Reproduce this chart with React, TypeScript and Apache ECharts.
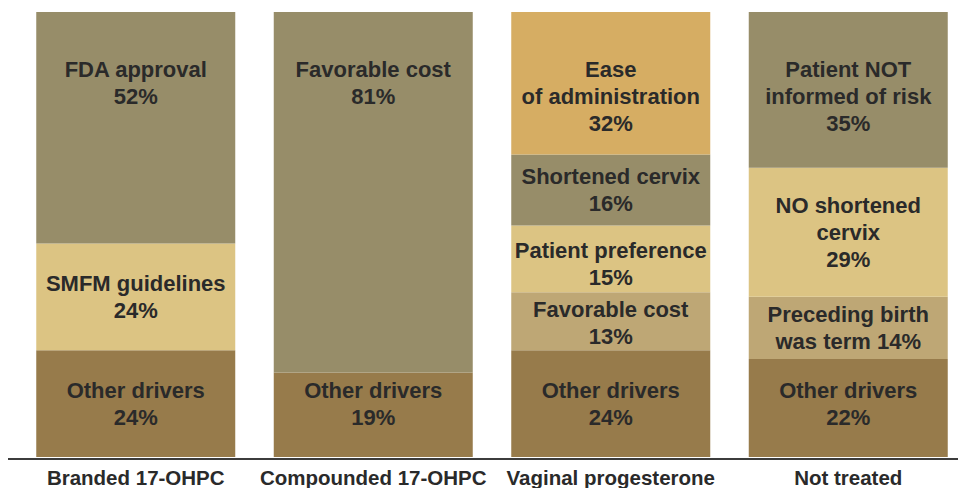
import React, { useEffect, useRef } from "react";
import * as echarts from "echarts";

// ---- Data ----
const categories = ["Branded 17-OHPC", "Compounded 17-OHPC", "Vaginal progesterone", "Not treated"];

// Segments listed bottom -> top. "{v}" marks where the percentage goes inline.
const brandedLabels = ["Other drivers", "SMFM guidelines", "FDA approval"];
const brandedValues = [24, 24, 52];

const compoundedLabels = ["Other drivers", "Favorable cost"];
const compoundedValues = [19, 81];

const vaginalLabels = ["Other drivers", "Favorable cost", "Patient preference", "Shortened cervix", "Ease\nof administration"];
const vaginalValues = [24, 13, 15, 16, 32];

const notTreatedLabels = ["Other drivers", "Preceding birth\nwas term {v}%", "NO shortened\ncervix", "Patient NOT\ninformed of risk"];
const notTreatedValues = [22, 14, 29, 35];

// ---- Styles ----
const OLIVE = "#978d69";
const YELLOW = "#dcc483";
const BROWN = "#977b4b";
const ORANGE = "#d6ad63";
const TAN = "#bea775";

const brandedColors = [BROWN, YELLOW, OLIVE];
const compoundedColors = [BROWN, OLIVE];
const vaginalColors = [BROWN, TAN, YELLOW, OLIVE, ORANGE];
const notTreatedColors = [BROWN, TAN, YELLOW, OLIVE];

const bars = [
  { labels: brandedLabels, values: brandedValues, colors: brandedColors },
  { labels: compoundedLabels, values: compoundedValues, colors: compoundedColors },
  { labels: vaginalLabels, values: vaginalValues, colors: vaginalColors },
  { labels: notTreatedLabels, values: notTreatedValues, colors: notTreatedColors },
];

const FONT = "'Liberation Sans', Arial, Helvetica, sans-serif";
const TEXT = "#2a2a2a";

function labelText(name: string, v: number) {
  if (name.includes("{v}")) return name.replace("{v}", String(v));
  return `${name}\n${v}%`;
}

// small vertical nudges for middle labels (px)
const middleOffsets: Record<string, number> = {
  "Patient preference": 5,
  "Favorable cost": 2,
};

export default function App() {
  const ref = useRef<HTMLDivElement>(null);

  useEffect(() => {
    if (!ref.current) return;
    const chart = echarts.init(ref.current, null, { renderer: "svg" });

    const levels = Math.max(...bars.map((b) => b.values.length));
    const series: any[] = [];
    for (let lvl = 0; lvl < levels; lvl++) {
      const data = bars.map((b) => {
        if (lvl >= b.values.length) return "-";
        const v = b.values[lvl];
        const name = b.labels[lvl];
        const isTop = lvl === b.values.length - 1;
        const isBottom = lvl === 0;
        let label: any;
        if (isBottom) {
          label = { position: "insideBottom", distance: 26 };
        } else if (isTop) {
          label = { position: "insideTop", distance: 44 };
        } else {
          label = { position: "inside", offset: [0, middleOffsets[name] || 0] };
        }
        return {
          value: v,
          itemStyle: { color: b.colors[lvl] },
          label: { ...label, formatter: labelText(name, v) },
        };
      });
      series.push({
        type: "bar",
        stack: "total",
        barWidth: 199,
        data,
        label: {
          show: true,
          color: TEXT,
          fontFamily: FONT,
          fontWeight: "bold",
          fontSize: 22,
          lineHeight: 27,
          align: "center",
        },
        emphasis: { disabled: true },
      });
    }

    chart.setOption({
      animation: false,
      backgroundColor: "#ffffff",
      grid: {
        left: 17,
        top: 12,
        width: 950,
        bottom: 31,
        containLabel: false,
        outerBoundsMode: "none",
      },
      xAxis: {
        type: "category",
        data: categories,
        axisLine: { show: false },
        axisTick: { show: false },
        axisLabel: {
          interval: 0,
          hideOverlap: false,
          color: TEXT,
          fontFamily: FONT,
          fontWeight: "bold",
          fontSize: 20.5,
          margin: 10,
        },
      },
      yAxis: { type: "value", min: 0, max: 100, show: false },
      graphic: [
        {
          type: "line",
          shape: { x1: 8, y1: 459, x2: 958, y2: 459 },
          style: { stroke: "#3c3c3c", lineWidth: 2 },
          z: 10,
        },
      ],
      series,
    });

    return () => chart.dispose();
  }, []);

  return (
    <div
      ref={ref}
      style={{ position: "fixed", left: 0, top: 0, width: 958, height: 488 }}
    />
  );
}
